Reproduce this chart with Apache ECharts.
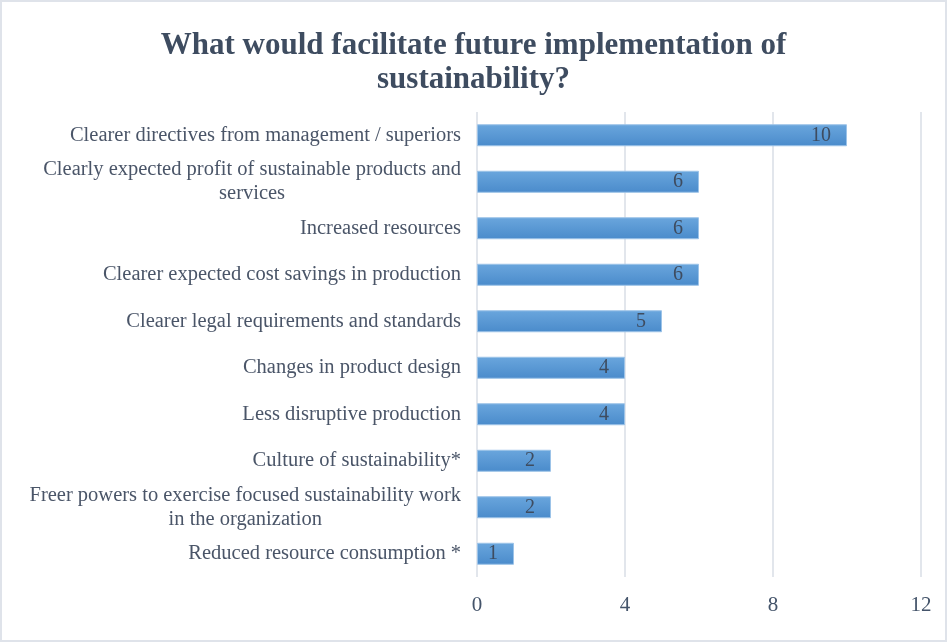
<!DOCTYPE html>
<html>
<head>
<meta charset="utf-8">
<script src="https://cdn.jsdelivr.net/npm/echarts@6/dist/echarts.min.js"></script>
<style>
  html, body { margin: 0; padding: 0; background: #ffffff; }
  #chart { width: 947px; height: 642px; box-sizing: border-box; border: 2px solid #dfe3ea; }
</style>
</head>
<body>
<div id="chart"></div>
<script>
// Survey answers, listed from the bottom of the chart to the top
const categories = [
  'Reduced resource consumption *',
  'Freer powers to exercise focused sustainability work\nin the organization',
  'Culture of sustainability*',
  'Less disruptive production',
  'Changes in product design',
  'Clearer legal requirements and standards',
  'Clearer expected cost savings in production',
  'Increased resources',
  'Clearly expected profit of sustainable products and\nservices',
  'Clearer directives from management / superiors'
];
const responses = [1, 2, 2, 4, 4, 5, 6, 6, 6, 10];
const axisTicks = [0, 4, 8, 12];

const serif = '"Liberation Serif", "Times New Roman", serif';
const textColor = '#44546A';

const chart = echarts.init(document.getElementById('chart'));
chart.setOption({
  animation: false,
  title: {
    text: 'What would facilitate future implementation of\nsustainability?',
    left: 'center',
    top: 22,
    textStyle: {
      fontFamily: serif,
      fontWeight: 'bold',
      fontSize: 31,
      lineHeight: 34,
      color: '#3e4c60'
    }
  },
  grid: { left: 475, right: 24, top: 110, bottom: 63 },
  xAxis: {
    type: 'value',
    min: axisTicks[0],
    max: axisTicks[axisTicks.length - 1],
    interval: axisTicks[1] - axisTicks[0],
    axisLine: { show: false },
    axisTick: { show: false },
    splitLine: { lineStyle: { color: '#d9dee6', width: 1.5 } },
    axisLabel: { fontFamily: serif, fontSize: 21, color: textColor, margin: 18 }
  },
  yAxis: {
    type: 'category',
    data: categories,
    axisLine: { show: false },
    axisTick: { show: false },
    axisLabel: {
      margin: 16,
      align: 'right',
      // each line is centred inside the label block, the block sits right-aligned
      formatter: (v) => v.split('\n').map((s) => '{c|' + s + '}').join('\n'),
      rich: {
        c: {
          align: 'center',
          fontFamily: serif,
          fontSize: 20.5,
          lineHeight: 24,
          color: '#4a5568'
        }
      }
    }
  },
  series: [{
    type: 'bar',
    data: responses,
    barWidth: 22,
    itemStyle: {
      color: new echarts.graphic.LinearGradient(0, 0, 0, 1, [
        { offset: 0, color: '#6aa6dd' },
        { offset: 1, color: '#4a8bcb' }
      ]),
      borderColor: '#9cc3e8',
      borderWidth: 1
    },
    label: {
      show: true,
      position: 'insideRight',
      distance: 16,
      fontFamily: serif,
      fontSize: 20,
      color: '#3e4c60'
    }
  }]
});
</script>
</body>
</html>
